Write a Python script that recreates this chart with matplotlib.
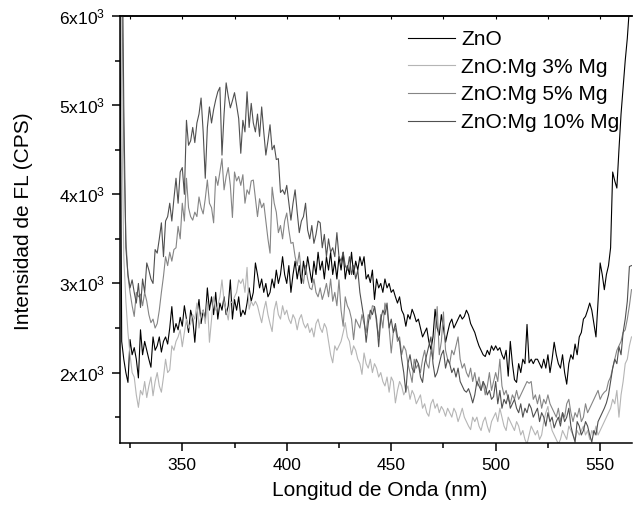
import numpy as np
import matplotlib
matplotlib.use("Agg")
import matplotlib.pyplot as plt
from matplotlib.ticker import MultipleLocator, FuncFormatter

plt.rcParams['font.family'] = ['Liberation Sans', 'DejaVu Sans']

# wavelength grid (nm), 1 nm step
wavelength = np.arange(320, 566)

zno = [
    7000, 2350, 2150, 2000, 1890, 2370, 2200, 2280, 2150, 1940,
    2480, 2200, 2350, 2250, 2150, 2060, 2400, 2250, 2300, 2400,
    2230, 2350, 2400, 2320, 2500, 2740, 2450, 2550, 2480, 2620,
    2520, 2750, 2600, 2450, 2700, 2600, 2340, 2650, 2820, 2550,
    2700, 2600, 2950, 2700, 2850, 2650, 2900, 2600, 2780, 2700,
    2850, 2650, 2750, 3040, 2600, 2820, 2700, 2850, 2630, 2700,
    2650, 2780, 2950, 2800, 2900, 3230, 3100, 2950, 3050, 2900,
    3000, 2850, 2900, 3050, 2950, 3150, 3000, 3100, 3300, 3100,
    3000, 3200, 2900, 3100, 3250, 3050, 3200, 3000, 3250, 3100,
    3300, 3150, 3010, 3250, 3100, 3350, 3150, 3250, 3050, 3300,
    3150, 3350, 3100, 3250, 3050, 3300, 3150, 3350, 3050, 3200,
    3100, 3350, 3100, 3250, 3150, 3300, 3200, 3300, 3050, 3100,
    3010, 3150, 2820, 3050, 2950, 3000, 2900, 3050, 2950, 3000,
    2900, 2930, 2850, 2780, 2850, 2700, 2650, 2520, 2650, 2600,
    2710, 2650, 2570, 2600, 2500, 2400, 2450, 2500, 2350, 2260,
    2400, 2710, 2500, 2420, 2650, 2500, 2340, 2450, 2550, 2600,
    2500, 2550, 2600, 2650, 2600, 2630, 2700, 2650, 2550, 2500,
    2450, 2370, 2300, 2250, 2200, 2180, 2250, 2200, 2300, 2250,
    2300, 2250, 2280, 2200, 2150, 2250, 1960, 2350, 2100, 1920,
    1890, 2100, 2000, 2150, 2100, 2540, 2110, 2150, 2100, 2150,
    2150, 2100, 2050, 2150, 2050, 2200, 2000, 2150, 2340, 2200,
    2100, 2050, 2200, 2000, 1870, 2100, 2200, 2150, 2320, 2200,
    2400, 2450, 2600, 2630, 2700, 2780, 2700, 2550, 2400, 2800,
    3230, 3100, 2930, 3100, 3200, 3400, 4250, 4150, 4070, 4500,
    4900, 5200, 5500, 5750, 6100, 6400,
]

mg3 = [
    7500, 5000, 3300, 2800, 2450, 2200, 2000, 1950, 1750, 1610,
    1800, 1750, 1900, 1720, 1850, 1950, 1740, 1900, 2000, 1850,
    1780, 1950, 2150, 2000, 2030, 2300, 2250, 2350, 2400, 2480,
    2290, 2450, 2600, 2500, 2550, 2650, 2600, 2780, 2500, 2650,
    2700, 2550, 2800, 2340, 2600, 2850, 2700, 2750, 2850, 3040,
    2800, 2700, 2590, 2800, 2780, 2850, 2900, 3040, 3000, 3050,
    2900, 3180, 2710, 2800, 2750, 2800, 2750, 2650, 2560, 2700,
    2800, 2650, 2550, 2460, 2700, 2800, 2650, 2600, 2750, 2650,
    2700, 2600, 2550, 2650, 2600, 2480, 2600, 2650, 2550, 2500,
    2550, 2450, 2500, 2400, 2550, 2600, 2500, 2450, 2550, 2500,
    2350, 2200, 2110, 2300, 2250, 2300, 2350, 2450, 2560, 2400,
    2350, 2200, 2300, 2250, 2150, 2100, 1980, 2220, 2100, 2050,
    2150, 2000, 2100, 2050, 1950, 2000, 1900, 1850, 1950, 1780,
    1950, 1900, 1660, 1800, 1900, 1850, 1750, 1800, 1850, 1700,
    1800, 1750, 1650, 1700, 1750, 1600, 1650, 1550, 1510, 1650,
    1700, 1600, 1650, 1550, 1620, 1580, 1510, 1600, 1550, 1500,
    1600, 1550, 1450, 1520, 1600, 1500, 1450, 1400, 1360, 1500,
    1450, 1500, 1400, 1350, 1450, 1500, 1400, 1330, 1450, 1500,
    1550, 1450, 1600, 1500, 1400, 1350, 1500, 1450, 1400, 1350,
    1450, 1400, 1300, 1350, 1250, 1200, 1300, 1400, 1350, 1300,
    1350, 1250, 1300, 1450, 1550, 1620, 1450, 1350, 1300, 1250,
    1200, 1250, 1350, 1300, 1250, 1400, 1350, 1300, 1250, 1350,
    1300, 1350, 1400, 1300, 1350, 1250, 1350, 1300, 1400, 1300,
    1350, 1400, 1450, 1500, 1550, 1600, 1700, 1650, 1800, 1500,
    1750, 1900, 2100, 2150, 2300, 2400,
]

mg5 = [
    7500, 6500, 4500, 3500, 3080, 2900, 2750, 2630, 2900, 2850,
    2880, 2750, 2900, 2800, 2650, 2560, 2600, 2500, 2550, 2700,
    2900, 3080, 3300, 3200, 3350, 3250, 3380, 3400, 3640, 3500,
    3900, 3700, 4180, 3850, 3750, 3710, 3800, 3750, 3970, 3850,
    3780, 3950, 4160, 3900, 3850, 3680, 4200, 4100, 4250, 4400,
    4050, 4200, 4300, 4100, 3740, 4250, 4150, 4200, 4100, 4220,
    3900, 4050, 4000, 4150, 4160, 3950, 3750, 3950, 3850, 3900,
    3700, 3500, 3340, 4080, 3900, 3800, 3570, 3650, 3500, 3700,
    3790, 3600, 3450, 3460, 3300, 3200, 3350, 3100, 3000, 3200,
    3050, 2950, 2930, 3050, 2900, 2850, 2950, 2820, 2900, 3000,
    2850, 3050, 2800, 2900, 2750, 3040, 2700, 2520, 2850, 2750,
    2700, 2600, 2370, 2600, 2550, 2500, 2650, 2550, 2450, 2650,
    2600, 2750, 2740, 2550, 2400, 2650, 2500, 2780, 2700, 2500,
    2220, 2450, 2500, 2350, 2400, 2200, 2300, 2250, 2100, 2000,
    1890, 2150, 2050, 2100, 2000, 2150, 2250, 2100, 2050, 2250,
    2150, 2450, 2740, 2200, 2350, 2680, 2250, 2150, 2100, 2250,
    2200, 2300, 2400, 2150, 2050, 2100, 2000, 1950, 2050, 1900,
    2000, 1850, 1950, 1800, 1900, 1750, 1850, 2000, 1800, 1900,
    2000, 1900, 2150, 1850, 1750, 1800, 1700, 1650, 1750, 1700,
    1800, 1700, 1750, 1800, 1850, 1900, 1880, 1900, 1700, 1750,
    1650, 1750, 1600, 1700, 1650, 1750, 1650, 1600, 1550, 1500,
    1600, 1450, 1550, 1500, 1650, 1700, 1550, 1450, 1550, 1500,
    1600, 1450, 1500, 1650, 1550, 1600, 1650, 1700, 1750, 1800,
    1700, 1750, 1780, 1800, 1900, 1950, 2050, 2150, 2250, 2300,
    2350, 2450, 2480, 2600, 2750, 2930,
]

mg10 = [
    7500, 7500, 5000, 3400, 3100, 2950, 3040, 2900, 2780, 3000,
    2730, 3050, 2900, 3230, 3150, 3050, 3000, 3380, 3340, 3500,
    3680, 3300, 3700, 3750, 3900, 3700, 3950, 4180, 3900, 4250,
    4300, 4000, 4830, 4550, 4600, 4750, 4580, 4800, 4900, 5080,
    4700, 4180, 4750, 4980, 4800, 4950, 5060, 5150, 5200, 4440,
    4900, 5250, 5100, 4970, 5050, 5140, 5000, 4850, 4460, 4830,
    4700, 5150, 4750, 5020, 4800, 4700, 4900, 4650, 4980, 4700,
    4440, 4600, 4780, 4500, 4550, 4390, 4400, 4020, 4050, 4000,
    4100, 3900, 3710, 3900, 4050, 3800, 3570, 3700, 3750, 3900,
    3600, 3500, 3650, 3450, 3550, 3700, 3680, 3400, 3550, 3300,
    3500, 3350, 3400, 3300, 3570, 3300, 3250, 3350, 3200, 3150,
    3300, 3100, 3200, 3050, 3150, 2900, 2750, 2600, 2340, 2550,
    2700, 2650, 2740, 2600, 2290, 2600, 2700, 2650, 2780, 2500,
    2600, 2450, 2550, 2400, 2350, 2150, 2000, 1780, 2100, 2200,
    2050, 2000, 2150, 2100, 1950, 1890, 2100, 2200, 2300, 2400,
    2100, 1950, 2000, 2100, 2200, 2250, 2050, 2150, 2100, 2000,
    2050, 1950, 2050, 1900, 1850, 1800, 1780, 1820, 1750, 1660,
    1750, 1900, 1850, 1800, 1900, 1850, 1750, 1800, 1700, 1730,
    1900, 1650, 1800, 1600, 1700, 1650, 1750, 1600, 1650, 1700,
    1600, 1550, 1650, 1500, 1600, 1550, 1650, 1600, 1500, 1550,
    1600, 1450, 1550, 1500, 1400, 1550, 1450, 1500, 1380, 1450,
    1500, 1400, 1550, 1450, 1500, 1600, 1400, 1300, 1220, 1450,
    1400, 1300, 1350, 1450, 1400, 1300, 1220, 1350, 1300, 1450,
    1500, 1550, 1600, 1660, 1750, 1900, 2050, 2150, 2100, 2290,
    2200, 2450, 2600, 2800, 3190, 3200,
]

labels = ['ZnO', 'ZnO:Mg 3% Mg', 'ZnO:Mg 5% Mg', 'ZnO:Mg 10% Mg']
colors = ['#000000', '#b5b5b5', '#858585', '#505050']

fig = plt.figure(figsize=(6.33, 5.15), dpi=100)
ax = fig.add_axes([0.1896, 0.1398, 0.8090, 0.8291])

for ys, lab, col in zip([zno, mg3, mg5, mg10], labels, colors):
    ax.plot(wavelength, ys, color=col, lw=0.8, label=lab)

ax.set_xlim(320.2, 565.3)
ax.set_ylim(1210, 6000)

ax.xaxis.set_major_locator(MultipleLocator(50))
ax.xaxis.set_minor_locator(MultipleLocator(25))
ax.yaxis.set_major_locator(MultipleLocator(1000))
ax.yaxis.set_minor_locator(MultipleLocator(500))
ax.yaxis.set_major_formatter(FuncFormatter(
    lambda v, p: f'{v/1000:.0f}x10$\\mathregular{{^3}}$'))

ax.tick_params(which='both', direction='out', width=1.1, labelsize=12.5, pad=5)
ax.tick_params(which='major', length=5.5)
ax.tick_params(which='minor', length=3.5)

for s in ['left', 'bottom', 'top']:
    ax.spines[s].set_linewidth(1.1)
ax.spines['right'].set_visible(False)

top = ax.secondary_xaxis('top')
top.xaxis.set_major_locator(MultipleLocator(50))
top.xaxis.set_minor_locator(MultipleLocator(25))
top.tick_params(which='both', direction='in', length=2.5, width=0.8, labeltop=False)
top.spines['top'].set_linewidth(1.1)

ax.set_xlabel('Longitud de Onda (nm)', fontsize=15)
ax.set_ylabel('Intensidad de FL (CPS)', fontsize=15)
ax.xaxis.set_label_coords(0.508, -0.09)
ax.yaxis.set_label_coords(-0.17, 0.52)

ax.legend(loc='upper left', bbox_to_anchor=(408 / 633, 1 - 30 / 515),
          bbox_transform=fig.transFigure, frameon=False, fontsize=15,
          handlelength=2.25, handletextpad=0.3, labelspacing=0.42,
          borderpad=0, borderaxespad=0)

fig.savefig('out.png', dpi=100)
